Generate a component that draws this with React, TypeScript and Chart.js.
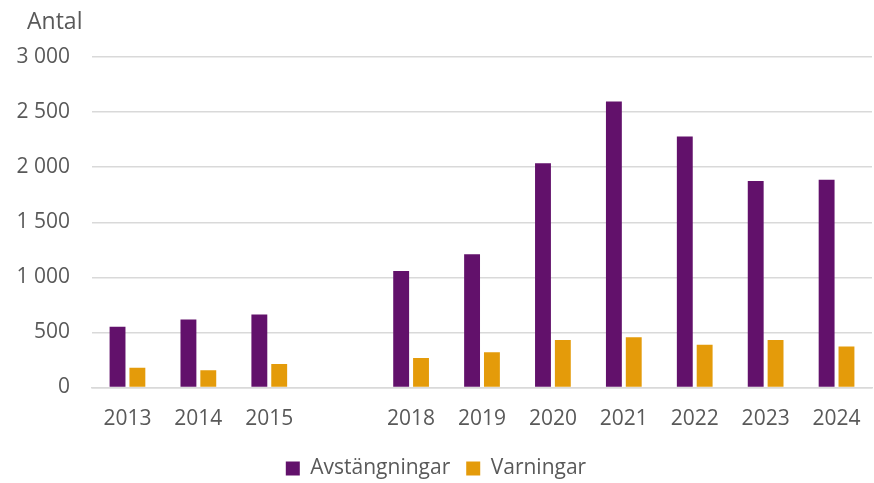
import React, { useEffect, useRef } from "react";
import { Chart, registerables } from "chart.js";

Chart.register(...registerables);

const categories = ["2013", "2014", "2015", "", "2018", "2019", "2020", "2021", "2022", "2023", "2024"];
const avstangningar = [552, 618, 663, null, 1058, 1210, 2035, 2597, 2278, 1874, 1886];
const varningar = [180, 156, 213, null, 268, 320, 432, 457, 389, 432, 372];
const yTicks = [0, 500, 1000, 1500, 2000, 2500, 3000];
const yTitle = "Antal";

const FONT = "'Open Sans', sans-serif";
const TEXT = "#595959";

function fmt(v: number) {
  return String(v).replace(/\B(?=(\d{3})+(?!\d))/g, " ");
}

const titlePlugin = {
  id: "yTitleText",
  afterDraw(chart: any) {
    const ctx = chart.ctx;
    ctx.save();
    ctx.font = `23px ${FONT}`;
    ctx.fillStyle = TEXT;
    ctx.textAlign = "left";
    ctx.textBaseline = "alphabetic";
    ctx.fillText(yTitle, 27, 29);
    ctx.restore();
  },
};

export default function App() {
  const ref = useRef<HTMLCanvasElement | null>(null);
  useEffect(() => {
    if (!ref.current) return;
    const chart = new Chart(ref.current, {
      type: "bar",
      data: {
        labels: categories,
        datasets: [
          {
            label: "Avstängningar",
            data: avstangningar,
            backgroundColor: "#62116B",
            categoryPercentage: 0.56,
            barPercentage: 0.8,
          },
          {
            label: "Varningar",
            data: varningar,
            backgroundColor: "#E49B0A",
            categoryPercentage: 0.56,
            barPercentage: 0.8,
          },
        ],
      },
      options: {
        animation: false,
        responsive: false,
        maintainAspectRatio: false,
        layout: { padding: { top: 57, right: 2, left: 0, bottom: -6 } },
        scales: {
          x: {
            afterFit: (s: any) => {
              s.height = 54.5;
              s.paddingLeft = 0;
              s.paddingRight = 0;
            },
            grid: { display: false, drawTicks: false },
            border: { display: true, color: "#D9D9D9", width: 1.5 },
            ticks: { color: TEXT, font: { family: FONT, size: 21 }, padding: 19, maxRotation: 0, autoSkip: false },
          },
          y: {
            min: 0,
            max: 3000,
            afterFit: (s: any) => {
              s.width = 92;
            },
            afterBuildTicks: (s: any) => {
              s.ticks = yTicks.map((v) => ({ value: v }));
            },
            grid: { color: "#D9D9D9", lineWidth: 1.5, drawTicks: false },
            border: { display: false },
            ticks: {
              color: TEXT,
              font: { family: FONT, size: 21 },
              padding: 22,
              callback: (v: any) => fmt(Number(v)),
            },
          },
        },
        plugins: {
          legend: {
            position: "bottom",
            labels: {
              color: TEXT,
              font: { family: FONT, size: 21 },
              boxWidth: 14,
              boxHeight: 14,
              padding: 16,
            },
          },
          tooltip: { enabled: false },
          title: { display: false },
        },
      },
      plugins: [titlePlugin],
    });
    return () => chart.destroy();
  }, []);
  return (
    <div style={{ position: "absolute", left: 0, top: 0, width: 874, height: 483, background: "#fff" }}>
      <canvas ref={ref} width={874} height={483} style={{ width: 874, height: 483, display: "block" }} />
    </div>
  );
}
